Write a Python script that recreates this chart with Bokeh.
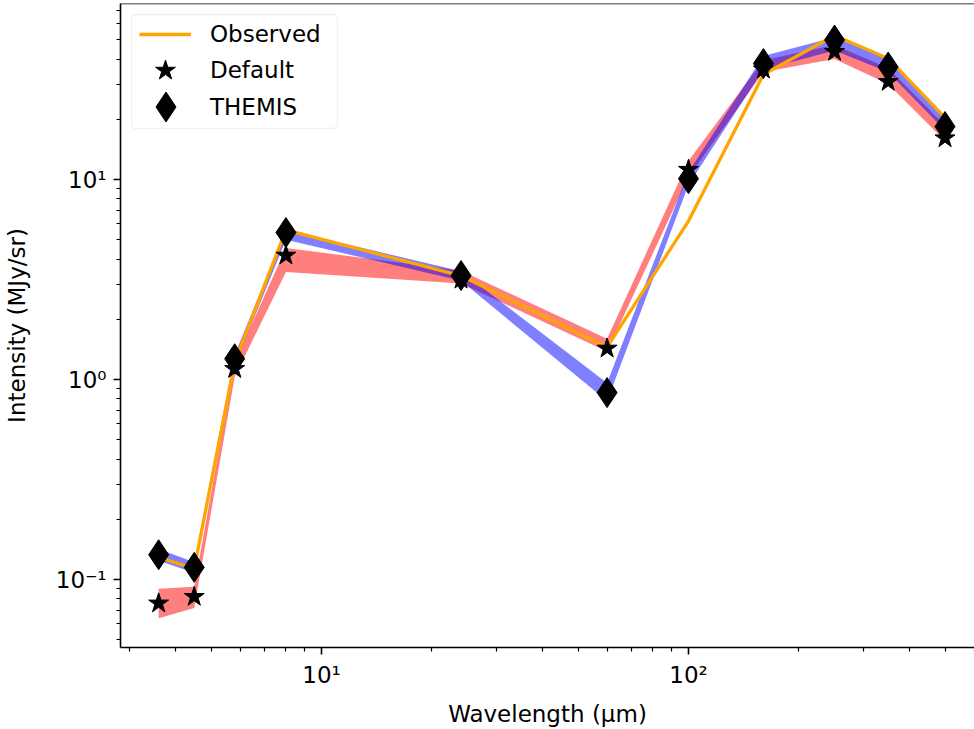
from bokeh.plotting import figure
from bokeh.models import FixedTicker, Legend, LegendItem, BoxAnnotation, Span, Range1d
from bokeh.embed import file_html
from bokeh.resources import INLINE

# ---------------- data ----------------
wavelength = [3.6, 4.5, 5.8, 8.0, 24.0, 60.0, 100.0, 160.0, 250.0, 350.0, 500.0]
observed = [0.129, 0.1135, 1.22, 5.6, 3.3, 1.45, 6.2, 33.5, 52.5, 40.3, 20.4]
default = [0.076, 0.082, 1.13, 4.17, 3.16, 1.43, 11.2, 35.5, 43.5, 30.8, 16.1]
default_lo = [0.064, 0.072, 1.03, 3.45, 3.02, 1.38, 10.3, 34.5, 40.0, 30.0, 15.6]
default_hi = [0.090, 0.092, 1.22, 4.55, 3.50, 1.60, 12.4, 39.5, 47.0, 36.0, 18.6]
themis = [0.133, 0.115, 1.27, 5.43, 3.31, 0.86, 10.1, 38.0, 49.8, 36.5, 18.4]
themis_lo = [0.124, 0.108, 1.17, 5.0, 3.12, 0.78, 9.4, 35.5, 44.2, 34.5, 17.6]
themis_hi = [0.142, 0.122, 1.33, 5.6, 3.48, 0.96, 10.9, 41.5, 51.5, 40.0, 20.2]

x_major_ticks = [10, 100]
x_major_labels = ["10\u00b9", "10\u00b2"]
x_minor_ticks = [3, 4, 5, 6, 7, 8, 9, 20, 30, 40, 50, 60, 70, 80, 90, 200, 300, 400, 500, 600]
y_major_ticks = [0.1, 1, 10]
y_major_labels = ["10\u207b\u00b9", "10\u2070", "10\u00b9"]
y_minor_ticks = [0.05, 0.06, 0.07, 0.08, 0.09, 0.2, 0.3, 0.4, 0.5, 0.6, 0.7, 0.8, 0.9,
                 2, 3, 4, 5, 6, 7, 8, 9, 20, 30, 40, 50, 60, 70]

FONT = "DejaVu Sans"
FS = "23px"

x_lo, x_hi = 10 ** 0.4523, 10 ** 2.7793
y_lo, y_hi = 10 ** -1.34, 10 ** 1.88

p = figure(width=974, height=729, x_axis_type="log", y_axis_type="log",
           x_range=Range1d(x_lo, x_hi), y_range=Range1d(y_lo, y_hi),
           output_backend="svg", toolbar_location=None, title=None,
           min_border_left=0, min_border_right=0, min_border_top=3, min_border_bottom=82)

p.xgrid.visible = False
p.ygrid.visible = False
p.outline_line_color = None
p.background_fill_color = "white"
p.border_fill_color = "white"

# bands
p.varea(x=wavelength, y1=default_lo, y2=default_hi, fill_color="red", fill_alpha=0.5)
p.varea(x=wavelength, y1=themis_lo, y2=themis_hi, fill_color="blue", fill_alpha=0.5)

r_obs = p.line(wavelength, observed, line_color="#ffa500", line_width=3.3)
r_def = p.scatter(wavelength, default, marker="star", size=21, fill_color="black", line_color="black")
r_th = p.scatter(wavelength, themis, marker="diamond", size=30, fill_color="black", line_color="black")

# axes
p.xaxis.ticker = FixedTicker(ticks=x_major_ticks, minor_ticks=x_minor_ticks)
p.yaxis.ticker = FixedTicker(ticks=y_major_ticks, minor_ticks=y_minor_ticks)
p.xaxis.major_label_overrides = dict(zip(x_major_ticks, x_major_labels))
p.yaxis.major_label_overrides = dict(zip(y_major_ticks, y_major_labels))
p.xaxis.axis_label = "Wavelength (\u00b5m)"
p.yaxis.axis_label = "Intensity (MJy/sr)"
for ax in (p.xaxis[0], p.yaxis[0]):
    ax.axis_line_color = "black"
    ax.axis_line_width = 1.6
    ax.major_tick_line_color = "black"
    ax.major_tick_line_width = 1.6
    ax.minor_tick_line_color = "black"
    ax.minor_tick_line_width = 1.2
    ax.major_tick_out = 7
    ax.major_tick_in = 0
    ax.minor_tick_out = 4
    ax.minor_tick_in = 0
    ax.major_label_text_font = FONT
    ax.major_label_text_font_size = FS
    ax.major_label_text_color = "black"
    ax.major_label_standoff = 7
    ax.axis_label_text_font = FONT
    ax.axis_label_text_font_size = FS
    ax.axis_label_text_font_style = "normal"
    ax.axis_label_text_color = "black"
p.xaxis.axis_label_standoff = 10
p.yaxis.axis_label_standoff = 23

# top spine
p.add_layout(Span(location=y_hi, dimension="width", line_color="black", line_width=1.6))

# legend frame
p.add_layout(BoxAnnotation(left=11, right=217, top=633, bottom=519,
                           left_units="screen", right_units="screen",
                           top_units="screen", bottom_units="screen",
                           fill_color="white", fill_alpha=0.8,
                           line_color="#cccccc", line_width=1.3, border_radius=4))


def add_legend(label, rend, gw, gh, loc, standoff):
    lg = Legend(items=[LegendItem(label=label, renderers=[rend])], location=loc,
                glyph_width=gw, glyph_height=gh, label_standoff=standoff,
                padding=0, margin=0, spacing=0, border_line_color=None,
                background_fill_alpha=0, label_text_font=FONT, label_text_font_size=FS,
                label_text_color="black", label_height=20)
    p.add_layout(lg)


add_legend("Observed", r_obs, 52, 28, (19, 599), 19)
add_legend("Default", r_def, 52, 52, (19, 551), 19)
add_legend("THEMIS", r_th, 75, 75, (8, 503), 7)

open("out.html", "w").write(file_html(p, INLINE))
